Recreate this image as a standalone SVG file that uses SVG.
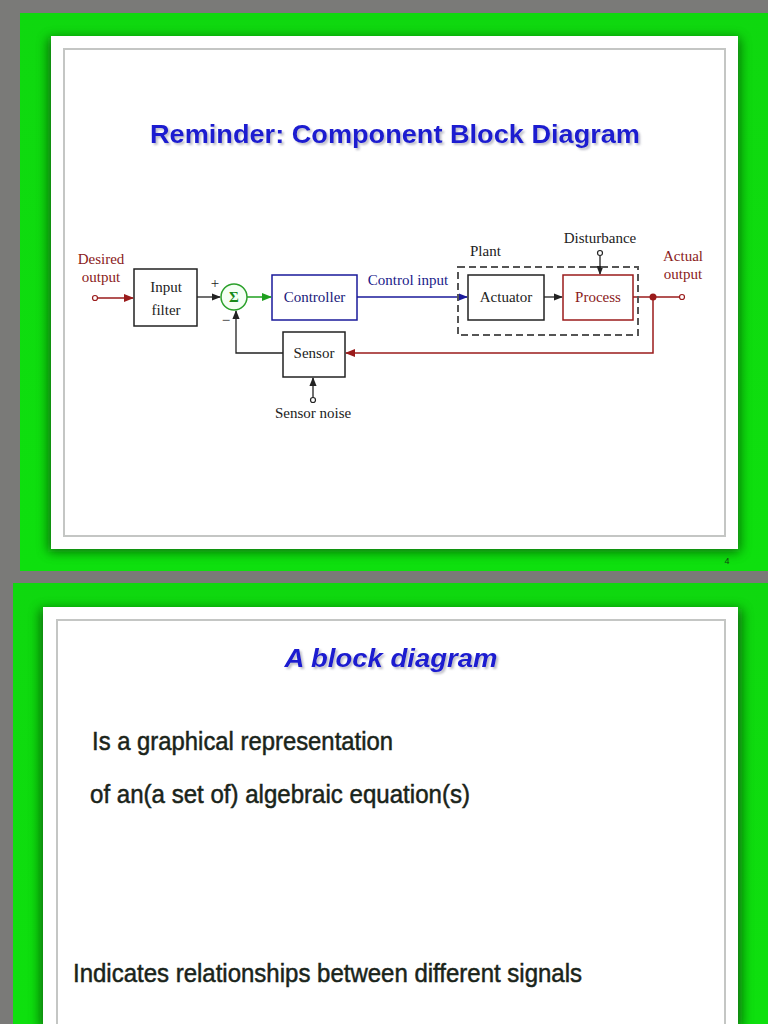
<svg xmlns="http://www.w3.org/2000/svg" width="768" height="1024" viewBox="0 0 768 1024">
<defs>
<style>
.serif{font-family:"Liberation Serif","Times New Roman",serif;font-size:15px}
.blk{fill:#fff;stroke:#222;stroke-width:1.5}
.ln{fill:none;stroke:#222;stroke-width:1.3}
.red{fill:none;stroke:#9a1b1b;stroke-width:1.5}
.body{font-family:"Liberation Sans",Arial,sans-serif;font-size:26px;fill:#1a241a;stroke:#1a241a;stroke-width:0.5}
.title{font-family:"Liberation Sans",Arial,sans-serif;font-weight:bold;fill:#1a1ad0}
</style>
<linearGradient id="grn" x1="0" y1="0" x2="0" y2="1">
<stop offset="0" stop-color="#0fd80f"/><stop offset="1" stop-color="#0ee00e"/>
</linearGradient>
<filter id="sh" x="-10%" y="-10%" width="120%" height="120%"><feGaussianBlur stdDeviation="6"/></filter>
<filter id="tsh" x="-5%" y="-20%" width="110%" height="150%">
<feGaussianBlur in="SourceAlpha" stdDeviation="1"/>
<feOffset dx="1.5" dy="1.5" result="b"/>
<feFlood flood-color="#7a7a90" flood-opacity="0.5"/>
<feComposite in2="b" operator="in" result="s"/>
<feMerge><feMergeNode in="s"/><feMergeNode in="SourceGraphic"/></feMerge>
</filter>
<marker id="aK" viewBox="0 0 10 10" refX="9" refY="5" markerWidth="7" markerHeight="7" orient="auto"><path d="M0,1 L10,5 L0,9 z" fill="#222"/></marker>
<marker id="aR" viewBox="0 0 10 10" refX="9" refY="5" markerWidth="7" markerHeight="7" orient="auto"><path d="M0,1 L10,5 L0,9 z" fill="#9a1b1b"/></marker>
<marker id="aG" viewBox="0 0 10 10" refX="9" refY="5" markerWidth="7" markerHeight="7" orient="auto"><path d="M0,1 L10,5 L0,9 z" fill="#1fa01f"/></marker>
<marker id="aB" viewBox="0 0 10 10" refX="9" refY="5" markerWidth="7" markerHeight="7" orient="auto"><path d="M0,1 L10,5 L0,9 z" fill="#1a1a9a"/></marker>
</defs>
<rect x="0" y="0" width="768" height="1024" fill="#7a7a78"/>

<!-- Slide 1 -->
<g id="slide1">
<rect x="20" y="13" width="748" height="558" fill="url(#grn)"/>
<rect x="48" y="38" width="692" height="514" fill="#0a5a0a" filter="url(#sh)" opacity="0.85"/>
<rect x="51" y="36" width="687" height="513" fill="#fff"/>
<rect x="64" y="49" width="661" height="487" fill="#fff" stroke="#c4c6c4" stroke-width="2"/>
<text x="395" y="143" text-anchor="middle" class="title" font-size="26" filter="url(#tsh)" textLength="490" lengthAdjust="spacingAndGlyphs">Reminder: Component Block Diagram</text>
<text x="727" y="564" font-family="Liberation Sans,Arial,sans-serif" font-size="9" fill="#114411" text-anchor="middle">4</text>
</g>

<!-- Diagram -->
<g id="connectors">
<circle cx="95" cy="298" r="2.5" fill="#fff" stroke="#9a1b1b" stroke-width="1.2"/>
<line x1="97.5" y1="298" x2="133" y2="298" class="red" marker-end="url(#aR)"/>
<line x1="197" y1="297" x2="220" y2="297" class="ln" marker-end="url(#aK)"/>
<line x1="247" y1="297" x2="271" y2="297" stroke="#1fa01f" stroke-width="1.5" marker-end="url(#aG)"/>
<line x1="357" y1="297" x2="467" y2="297" stroke="#1a1a9a" stroke-width="1.3" marker-end="url(#aB)"/>
<line x1="544" y1="297" x2="562" y2="297" class="ln" marker-end="url(#aK)"/>
<circle cx="600" cy="253" r="2.5" fill="#fff" stroke="#222" stroke-width="1.2"/>
<line x1="600" y1="255.5" x2="600" y2="274" class="ln" marker-end="url(#aK)"/>
<line x1="633" y1="297" x2="679.5" y2="297" class="red"/>
<circle cx="682" cy="297" r="2.5" fill="#fff" stroke="#9a1b1b" stroke-width="1.2"/>
<circle cx="653" cy="297" r="3.5" fill="#9a1b1b"/>
<polyline points="653,297 653,353 346,353" class="red" marker-end="url(#aR)"/>
<polyline points="283,353 236,353 236,311" class="ln" marker-end="url(#aK)"/>
<circle cx="313" cy="400" r="2.5" fill="#fff" stroke="#222" stroke-width="1.2"/>
<line x1="313" y1="397.5" x2="313" y2="378" class="ln" marker-end="url(#aK)"/>
</g>
<g id="plant">
<rect x="458" y="267" width="180" height="68" fill="none" stroke="#555" stroke-width="2" stroke-dasharray="7,4"/>
<text x="470" y="256" class="serif" fill="#222">Plant</text>
</g>
<g id="desired">
<text x="101" y="264" class="serif" fill="#8a1a1a" text-anchor="middle">Desired</text>
<text x="101" y="282" class="serif" fill="#8a1a1a" text-anchor="middle">output</text>
</g>
<g id="inputfilter">
<rect x="134" y="269" width="63" height="57" class="blk"/>
<text x="166" y="292" class="serif" fill="#222" text-anchor="middle">Input</text>
<text x="166" y="315" class="serif" fill="#222" text-anchor="middle">filter</text>
</g>
<g id="sum">
<circle cx="234" cy="297" r="13" fill="#f4fff4" stroke="#2aa02a" stroke-width="1.5"/>
<text x="234" y="302" class="serif" font-size="14" font-weight="bold" fill="#1a8a1a" text-anchor="middle">Σ</text>
<text x="215" y="288" class="serif" font-size="13" fill="#222" text-anchor="middle">+</text>
<text x="226" y="325" class="serif" font-size="14" fill="#222" text-anchor="middle">−</text>
</g>
<g id="controller">
<rect x="272" y="275" width="85" height="45" fill="#fff" stroke="#1a1a9a" stroke-width="1.5"/>
<text x="314.5" y="302" class="serif" fill="#1a1a7a" text-anchor="middle">Controller</text>
</g>
<g id="controlinput">
<text x="408" y="285" class="serif" fill="#1a1a8a" text-anchor="middle">Control input</text>
</g>
<g id="actuator">
<rect x="468" y="275" width="76" height="45" class="blk"/>
<text x="506" y="302" class="serif" fill="#222" text-anchor="middle">Actuator</text>
</g>
<g id="process">
<rect x="563" y="275" width="70" height="45" fill="#fff" stroke="#9a1b1b" stroke-width="1.5"/>
<text x="598" y="302" class="serif" fill="#8a1a1a" text-anchor="middle">Process</text>
</g>
<g id="disturbance">
<text x="600" y="243" class="serif" fill="#222" text-anchor="middle">Disturbance</text>
</g>
<g id="actual">
<text x="683" y="261" class="serif" fill="#8a1a1a" text-anchor="middle">Actual</text>
<text x="683" y="279" class="serif" fill="#8a1a1a" text-anchor="middle">output</text>
</g>
<g id="sensor">
<rect x="283" y="332" width="62" height="45" class="blk"/>
<text x="314" y="358" class="serif" fill="#222" text-anchor="middle">Sensor</text>
</g>
<g id="sensornoise">
<text x="313" y="418" class="serif" fill="#222" text-anchor="middle">Sensor noise</text>
</g>

<!-- Slide 2 -->
<g id="slide2">
<rect x="13" y="583" width="755" height="441" fill="url(#grn)"/>
<rect x="40" y="609" width="702" height="420" fill="#0a5a0a" filter="url(#sh)" opacity="0.85"/>
<rect x="43" y="607" width="695" height="420" fill="#fff"/>
<rect x="57" y="620" width="668" height="410" fill="#fff" stroke="#c4c6c4" stroke-width="2"/>
<text x="391" y="667" text-anchor="middle" class="title" font-size="26" font-style="italic" filter="url(#tsh)" textLength="213" lengthAdjust="spacingAndGlyphs">A block diagram</text>
<text x="92" y="750" class="body" textLength="301" lengthAdjust="spacingAndGlyphs">Is a graphical representation</text>
<text x="90" y="803" class="body" textLength="380" lengthAdjust="spacingAndGlyphs">of an(a set of) algebraic equation(s)</text>
<text x="73" y="982" class="body" textLength="509" lengthAdjust="spacingAndGlyphs">Indicates relationships between different signals</text>
</g>
</svg>
